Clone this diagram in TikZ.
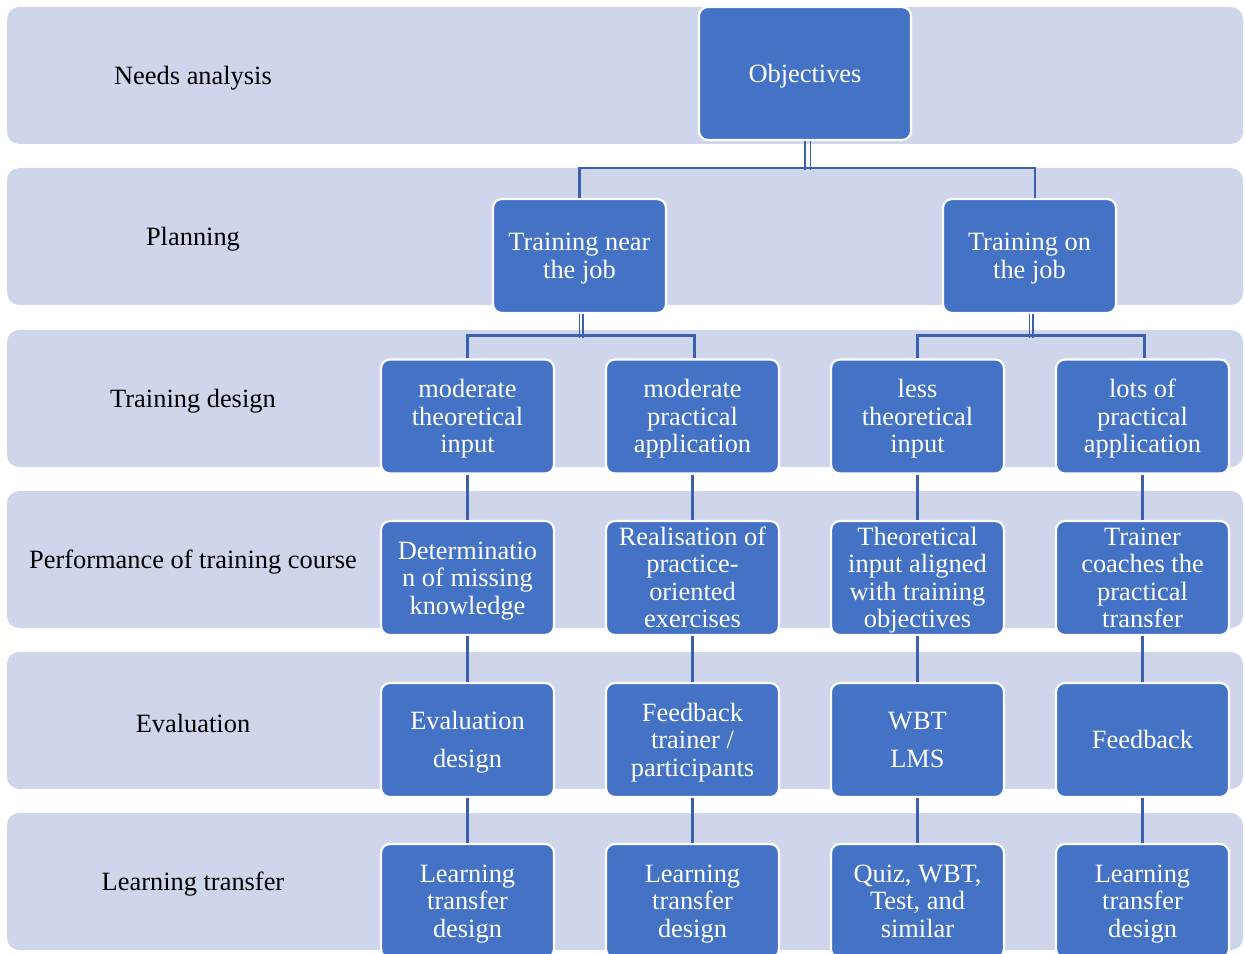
\documentclass[tikz,border=0pt]{standalone}
\usepackage{fontspec}
\setmainfont{Liberation Serif}
\usepackage{tikz}
\definecolor{band_fill}{RGB}{207, 213, 234}
\definecolor{box_blue}{RGB}{68, 114, 196}
\definecolor{line_blue}{RGB}{60, 96, 176}
\newcommand{\btxt}[1]{\begin{tabular}{@{}c@{}}\rule{0pt}{11.6pt}#1\end{tabular}}
\tikzstyle{band}=[fill=band_fill,draw=none,rounded corners=5.5pt]
\tikzstyle{lbl}=[font=\fontsize{12}{12.5}\selectfont,text=black]
\tikzstyle{bx}=[rectangle,rounded corners=4pt,fill=box_blue,draw=white,
  line width=1pt,text=white,font=\fontsize{12}{12.5}\selectfont,
  minimum width=78.6pt,minimum height=51.8pt,inner xsep=1pt,inner ysep=-2pt]
\tikzstyle{conn}=[draw=line_blue,line width=1.1pt]
\tikzstyle{cdbl}=[draw=line_blue,line width=0.9pt]

\begin{document}
\begin{tikzpicture}[x=0.4545pt,y=-0.4545pt]
    \useasboundingbox (0,0) rectangle (1245,954);
    \clip (0,0) rectangle (1245,954);
    % bands
    \foreach \y in {7,168,330,491,652,813}
      \fill[band] (7,\y) rectangle (1243,\y+137);
    % row labels
    \node [style=lbl] (needs) at (193,78.5) {Needs analysis};
    \node [style=lbl] (plan) at (193,239.5) {Planning};
    \node [style=lbl] (design) at (193,401.5) {Training design};
    \node [style=lbl] (perf) at (193,562.5) {Performance of training course};
    \node [style=lbl] (eval) at (193,723.5) {Evaluation};
    \node [style=lbl] (transfer) at (193,884.5) {Learning transfer};
    % boxes
    \node [style=bx,minimum width=96.4pt,minimum height=60.4pt] (obj) at (805,73.5) {\btxt{Objectives}};
    \node [style=bx] (near) at (579.5,256) {\btxt{Training near\\the job}};
    \node [style=bx] (on) at (1029.5,256) {\btxt{Training on\\the job}};
    \node [style=bx] (d1) at (467.5,416.5) {\btxt{moderate\\theoretical\\input}};
    \node [style=bx] (d2) at (692.5,416.5) {\btxt{moderate\\practical\\application}};
    \node [style=bx] (d3) at (917.5,416.5) {\btxt{less\\theoretical\\input}};
    \node [style=bx] (d4) at (1142.5,416.5) {\btxt{lots of\\practical\\application}};
    \node [style=bx] (p1) at (467.5,578) {\btxt{Determinatio\\n of missing\\knowledge}};
    \node [style=bx] (p2) at (692.5,578) {\btxt{Realisation of\\practice-\\oriented\\exercises}};
    \node [style=bx] (p3) at (917.5,578) {\btxt{Theoretical\\input aligned\\with training\\objectives}};
    \node [style=bx] (p4) at (1142.5,578) {\btxt{Trainer\\coaches the\\practical\\transfer}};
    \node [style=bx] (e1) at (467.5,740) {\btxt{Evaluation\\[5pt]design}};
    \node [style=bx] (e2) at (692.5,740) {\btxt{Feedback\\trainer /\\participants}};
    \node [style=bx] (e3) at (917.5,740) {\btxt{WBT\\[5pt]LMS}};
    \node [style=bx] (e4) at (1142.5,740) {\btxt{Feedback}};
    \node [style=bx] (t1) at (467.5,901) {\btxt{Learning\\transfer\\design}};
    \node [style=bx] (t2) at (692.5,901) {\btxt{Learning\\transfer\\design}};
    \node [style=bx] (t3) at (917.5,901) {\btxt{Quiz, WBT,\\Test, and\\similar}};
    \node [style=bx] (t4) at (1142.5,901) {\btxt{Learning\\transfer\\design}};
    % connectors
    \draw [style=cdbl] ([xshift=0pt]obj.south) -- ++(0,29);
    \draw [style=cdbl] ([xshift=2.5pt]obj.south) -- ++(0,29);
    \draw [style=conn] (near.north) -- ++(0,-30) -| ([xshift=2.5pt]on.north);
    \draw [style=cdbl] ([xshift=0pt]near.south) -- ++(0,24);
    \draw [style=cdbl] ([xshift=1.8pt]near.south) -- ++(0,24);
    \draw [style=conn] (d1.north) -- ++(0,-23) -| ([xshift=1pt]d2.north);
    \draw [style=cdbl] ([xshift=0pt]on.south) -- ++(0,24);
    \draw [style=cdbl] ([xshift=1.8pt]on.south) -- ++(0,24);
    \draw [style=conn] (d3.north) -- ++(0,-23) -| ([xshift=1pt]d4.north);
    \foreach \c in {1,2,3,4} {
      \draw [style=conn] (d\c) -- (p\c);
      \draw [style=conn] (p\c) -- (e\c);
      \draw [style=conn] (e\c) -- (t\c);
    }
  \end{tikzpicture}
\end{document}
